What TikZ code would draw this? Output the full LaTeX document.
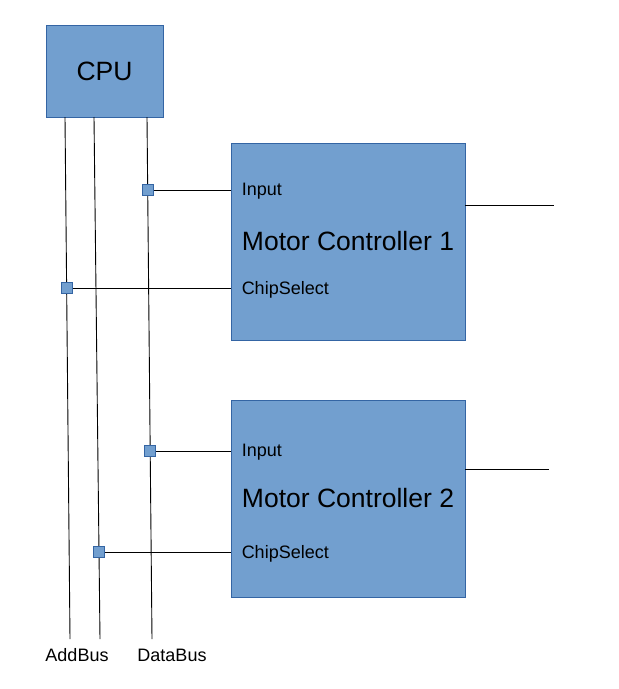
\documentclass[tikz,border=0pt]{standalone}
\usepackage{fontspec}
\setmainfont{Liberation Sans}
\usepackage{tikz}
\usetikzlibrary{positioning}
\usetikzlibrary{calc}
\definecolor{boxfill}{HTML}{729FCF}
\definecolor{boxline}{HTML}{3465A4}
\newcommand{\bigtxt}{\fontsize{26.5}{31}\selectfont}
\newcommand{\smalltxt}{\fontsize{18}{22}\selectfont}

\begin{document}
\begin{tikzpicture}[x=1pt,y=-1pt,
  block/.style={draw=boxline,fill=boxfill,line width=0.9pt,inner sep=0pt,font=\bigtxt},
  pin/.style={draw=boxline,fill=boxfill,line width=0.9pt,inner sep=0pt,minimum size=11pt},
  port/.style={inner sep=0pt,anchor=west,font=\smalltxt,yshift=-1.5pt},
  wire/.style={line width=0.9pt}]
  \useasboundingbox (0,0) rectangle (619,689);

  \node[block,minimum width=117pt,minimum height=92pt] (cpu) at (104.5,71) {CPU};
  \node[block,minimum width=234pt,minimum height=197pt] (mc1) at (348,241.5) {Motor Controller 1};
  \node[block,minimum width=234pt,minimum height=197pt] (mc2) at (348,498.5) {Motor Controller 2};

  % buses
  \coordinate (addA) at (65,117);
  \coordinate (addB) at (94,117);
  \coordinate (data) at (147,117);
  \coordinate (addAend) at (70,639);
  \coordinate (addBend) at (100,639);
  \coordinate (dataend) at (152,639);
  \draw[wire](addA)--(addAend);
  \draw[wire](addB)--(addBend);
  \draw[wire](data)--(dataend);

  \node[font=\smalltxt,inner sep=0pt] (addlbl) at (77,655) {AddBus};
  \node[font=\smalltxt,inner sep=0pt] (datalbl) at (172,655) {DataBus};

  \node[pin] (j1) at ($(data)!{73/522}!(dataend)$) {};
  \node[pin] (j2) at ($(addA)!{171/522}!(addAend)$) {};
  \node[pin] (j3) at ($(data)!{334/522}!(dataend)$) {};
  \node[pin] (j4) at ($(addB)!{435/522}!(addBend)$) {};

  \node[port] (in1) at ([xshift=11pt]mc1.west |- j1) {Input};
  \node[port] (cs1) at ([xshift=11pt]mc1.west |- j2) {ChipSelect};
  \node[port] (in2) at ([xshift=11pt]mc2.west |- j3) {Input};
  \node[port] (cs2) at ([xshift=11pt]mc2.west |- j4) {ChipSelect};

  \draw[wire](j1)--(mc1.west |- j1);
  \draw[wire](j2)--(mc1.west |- j2);
  \draw[wire](j3)--(mc2.west |- j3);
  \draw[wire](j4)--(mc2.west |- j4);

  % outputs
  \coordinate (out1) at (554,205);
  \coordinate (out2) at (549,469);
  \draw[wire](mc1.east |- out1)--(out1);
  \draw[wire](mc2.east |- out2)--(out2);
\end{tikzpicture}
\end{document}
